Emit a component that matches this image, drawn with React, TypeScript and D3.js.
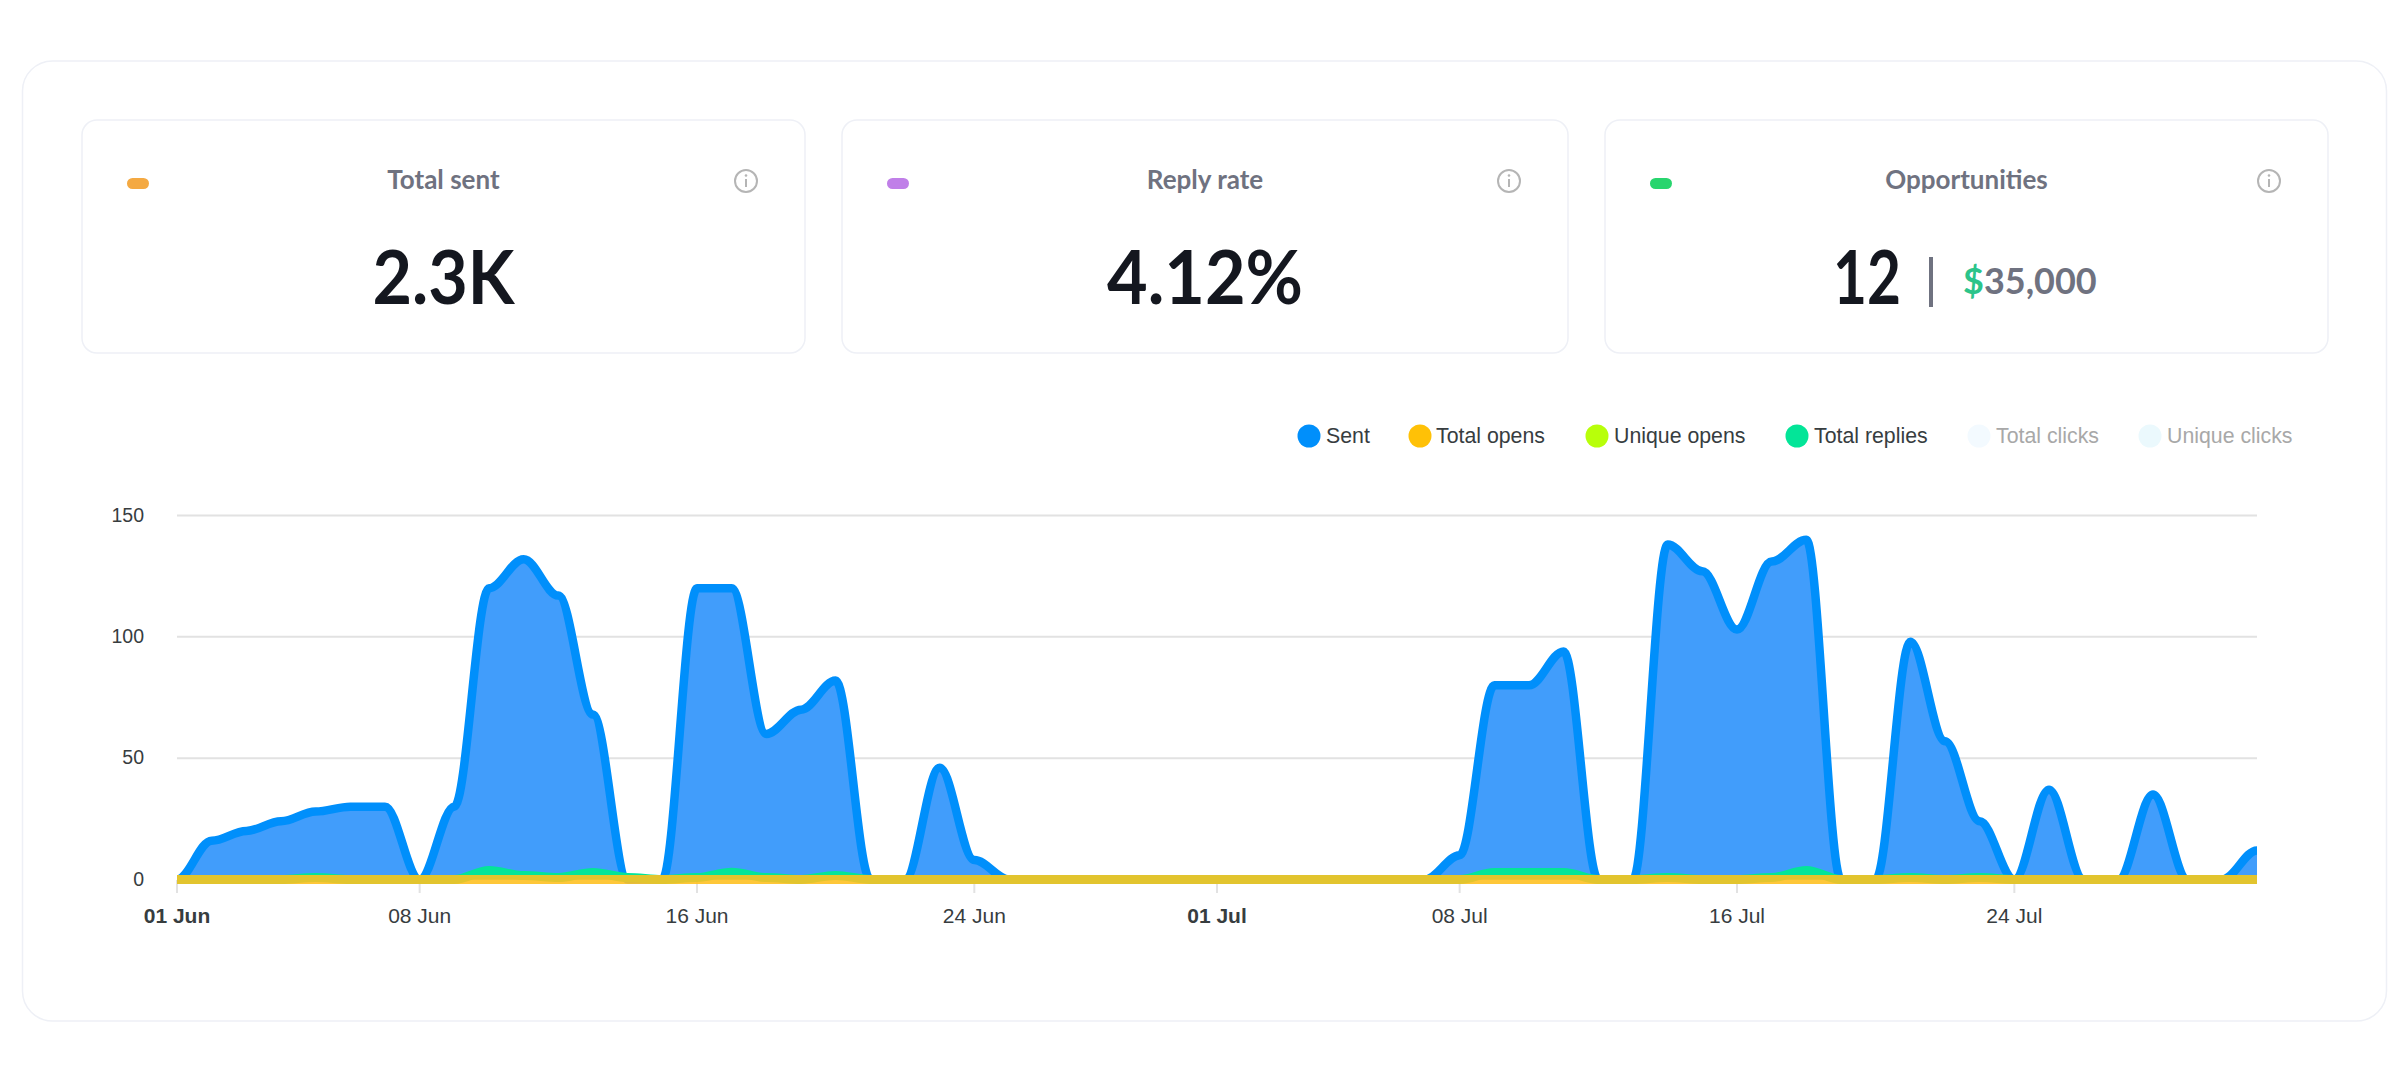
import * as d3 from "d3"
import React, { useRef, useEffect } from 'react';

// one value per day, 01 Jun to 31 Jul
const sent = [0, 16, 20, 24, 28, 30, 30, 0, 30, 120, 132, 117, 68, 0, 0, 120, 120, 60, 70, 82, 0, 0, 46, 8, 0, 0, 0, 0, 0, 0,
  0, 0, 0, 0, 0, 0, 0, 10, 80, 80, 94, 0, 0, 138, 127, 103, 131, 140, 0, 0, 98, 57, 24, 0, 37, 0, 0, 35, 0, 0, 12];
const totalReplies = [0, 0, 0, 0, 0.8, 0, 0, 0, 0, 3.7, 1.6, 0.8, 2.9, 0.8, 0, 0.8, 3, 0.8, 0, 1.7, 0, 0, 0, 0, 0, 0, 0, 0, 0, 0,
  0, 0, 0, 0, 0, 0, 0, 0, 2.9, 2.9, 2.9, 0, 0, 0.8, 0, 0, 0.8, 3.7, 0, 0, 0.8, 0, 0.8, 0, 0, 0, 0, 0, 0, 0, 0];
const totalOpens = sent.map(() => 0);

const yTicks = [0, 50, 100, 150];
const xTickDays = [0, 7, 15, 23, 30, 37, 45, 53];
const xTickLabels = ['01 Jun', '08 Jun', '16 Jun', '24 Jun', '01 Jul', '08 Jul', '16 Jul', '24 Jul'];
const boldLabels = ['01 Jun', '01 Jul'];

const legendNames = ['Sent', 'Total opens', 'Unique opens', 'Total replies', 'Total clicks', 'Unique clicks'];
const legendColors = ['#008ffb', '#ffc107', '#b8ff0a', '#03e598', '#f3faff', '#ebf9fd'];
const legendCircleX = [1309, 1420, 1597, 1797, 1979, 2150];
const legendTextX = [1326, 1436, 1614, 1814, 1996, 2167];
const legendFaded = [false, false, false, false, true, true];

const cardTitles = ['Total sent', 'Reply rate', 'Opportunities'];
const cardValues = ['2.3K', '4.12%', '12'];
const cardValueWidths = [142, 196, 68];
const cardPills = ['#f4a942', '#c07fe8', '#28d56e'];
const cardLeft = [82, 842, 1605];
const cardRight = [805, 1568, 2328];

// apexcharts style smooth line, flat tangent at every point
function smooth(context: any) {
  let x0 = 0, y0 = 0, i = 0, inArea = false, second = false;
  return {
    areaStart() { inArea = true; second = false; },
    areaEnd() { inArea = false; context.closePath(); },
    lineStart() { i = 0; },
    lineEnd() { if (inArea) second = true; },
    point(x: number, y: number) {
      if (i === 0) {
        if (second) context.lineTo(x, y);
        else context.moveTo(x, y);
      } else {
        const d = (x - x0) * 0.35;
        context.bezierCurveTo(x0 + d, y0, x - d, y, x, y);
      }
      x0 = x; y0 = y; i++;
    },
  };
}

const App: React.FC = () => {
  const svgRef = useRef<SVGSVGElement | null>(null);

  useEffect(() => {
    const svg = d3.select(svgRef.current);
    svg.selectAll('*').remove();
    const ui = '"Lato", sans-serif';
    const chartFont = '"Liberation Sans", Arial, sans-serif';

    svg.append('rect').attr('x', 22.5).attr('y', 61).attr('width', 2364).attr('height', 960)
      .attr('rx', 30).attr('fill', '#fff').attr('stroke', '#eef0f6').attr('stroke-width', 1.5);

    // stat cards
    cardTitles.forEach((title, i) => {
      const l = cardLeft[i], r = cardRight[i], cx = (l + r) / 2;
      svg.append('rect').attr('x', l).attr('y', 120).attr('width', r - l).attr('height', 233)
        .attr('rx', 15).attr('fill', '#fff').attr('stroke', '#eef0f6').attr('stroke-width', 1.5);
      svg.append('rect').attr('x', l + 45).attr('y', 178).attr('width', 22).attr('height', 11)
        .attr('rx', 5.5).attr('fill', cardPills[i]);
      svg.append('text').attr('x', cx).attr('y', 189).attr('text-anchor', 'middle')
        .attr('font-family', ui).attr('font-size', 26).attr('font-weight', 700)
        .attr('fill', '#6f7280').text(title);
      // info icon
      const ix = r - 59;
      svg.append('circle').attr('cx', ix).attr('cy', 181).attr('r', 11)
        .attr('fill', 'none').attr('stroke', '#b5b5b5').attr('stroke-width', 2);
      svg.append('circle').attr('cx', ix).attr('cy', 175.5).attr('r', 1.3).attr('fill', '#b5b5b5');
      svg.append('line').attr('x1', ix).attr('x2', ix).attr('y1', 179).attr('y2', 187)
        .attr('stroke', '#b5b5b5').attr('stroke-width', 2);

      const valueX = i === 2 ? 1867 : cx;
      svg.append('text').attr('x', valueX).attr('y', 304).attr('text-anchor', 'middle')
        .attr('font-family', ui).attr('font-size', 74).attr('font-weight', 700)
        .attr('textLength', cardValueWidths[i]).attr('lengthAdjust', 'spacingAndGlyphs')
        .attr('fill', '#14171f').text(cardValues[i]);
    });
    svg.append('rect').attr('x', 1929).attr('y', 257).attr('width', 4).attr('height', 50).attr('fill', '#6f7280');
    const money = svg.append('text').attr('x', 1963).attr('y', 294)
      .attr('font-family', ui).attr('font-size', 36).attr('font-weight', 700).attr('fill', '#6f7280');
    money.append('tspan').attr('fill', '#2cc48a').text('$');
    money.append('tspan').text('35,000');

    // legend
    legendNames.forEach((name, i) => {
      svg.append('circle').attr('cx', legendCircleX[i]).attr('cy', 436).attr('r', 11.5).attr('fill', legendColors[i]);
      svg.append('text').attr('x', legendTextX[i]).attr('y', 443)
        .attr('font-family', chartFont).attr('font-size', 21.3)
        .attr('fill', legendFaded[i] ? '#a8a8a8' : '#373d3f').text(name);
    });

    // chart
    const x = d3.scaleLinear().domain([0, sent.length - 1]).range([177, 2257]);
    const y = d3.scaleLinear().domain([0, 150]).range([879.5, 515.5]);

    svg.append('defs').append('clipPath').attr('id', 'plot')
      .append('rect').attr('x', 177).attr('y', 480).attr('width', 2080).attr('height', 420);

    const grid = svg.append('g');
    yTicks.filter((t) => t > 0).forEach((t) => {
      grid.append('line').attr('x1', x(0)).attr('x2', 2257).attr('y1', y(t)).attr('y2', y(t))
        .attr('stroke', '#e2e2e2').attr('stroke-width', 2);
    });
    yTicks.forEach((t) => {
      svg.append('text').attr('x', 144).attr('y', y(t) + 6).attr('text-anchor', 'end')
        .attr('font-family', chartFont).attr('font-size', 19.5).attr('fill', '#373d3f').text(t);
    });
    xTickDays.forEach((d, i) => {
      svg.append('line').attr('x1', x(d)).attr('x2', x(d)).attr('y1', 880).attr('y2', 893)
        .attr('stroke', '#e2e2e2').attr('stroke-width', 2);
      svg.append('text').attr('x', x(d)).attr('y', 923).attr('text-anchor', 'middle')
        .attr('font-family', chartFont).attr('font-size', 21)
        .attr('font-weight', boldLabels.includes(xTickLabels[i]) ? 700 : 400)
        .attr('fill', '#373d3f').text(xTickLabels[i]);
    });

    const area = d3.area<number>().x((_, i) => x(i)).y0(y(0)).y1((d) => y(d)).curve(smooth as any);
    const line = d3.line<number>().x((_, i) => x(i)).y((d) => y(d)).curve(smooth as any);
    const plot = svg.append('g').attr('clip-path', 'url(#plot)');

    plot.append('path').attr('d', area(sent)).attr('fill', '#419dfb');
    plot.append('path').attr('d', line(sent)).attr('fill', 'none').attr('stroke', '#008ffb').attr('stroke-width', 8.5);

    plot.append('path').attr('d', area(totalReplies)).attr('fill', '#03e598');
    plot.append('path').attr('d', line(totalReplies)).attr('fill', 'none')
      .attr('stroke', '#03e598').attr('stroke-width', 9);

    // the opens line lies on zero and sits over everything
    plot.append('path').attr('d', line(totalOpens)).attr('fill', 'none')
      .attr('stroke', '#fec021').attr('stroke-opacity', 0.89).attr('stroke-width', 9);
  }, []);

  return <svg ref={svgRef} width={2402} height={1088} style={{ position: 'absolute', left: 0, top: 0 }}></svg>;
};

export default App;
